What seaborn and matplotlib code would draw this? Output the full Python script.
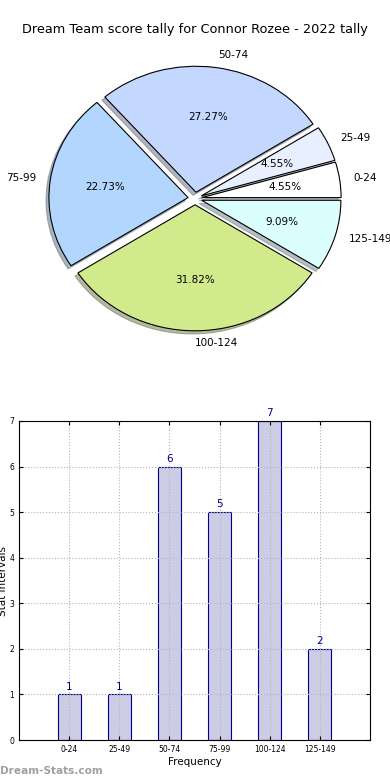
import matplotlib
matplotlib.use("Agg")
import matplotlib.pyplot as plt
import seaborn as sns
import pandas as pd

sns.set_style("white")
plt.rcParams['font.family'] = ['DejaVu Sans']
plt.rcParams['text.color'] = 'black'
plt.rcParams['axes.labelcolor'] = 'black'
plt.rcParams['xtick.color'] = 'black'
plt.rcParams['ytick.color'] = 'black'

# score intervals and how many games fell in each
intervals = ['0-24', '25-49', '50-74', '75-99', '100-124', '125-149']
counts = [1, 1, 6, 5, 7, 2]
slice_colors = ['#FFFFFF', '#E8F0FF', '#C4D8FF', '#B3D6FF', '#D0EA8C', '#DBFFFF']
title = 'Dream Team score tally for Connor Rozee - 2022 tally'

fig = plt.figure(figsize=(3.9, 7.8), dpi=100)

# pie on top (old style, not forced round)
ax1 = fig.add_axes([21 / 390, 1 - 356 / 780, 348 / 390, 315 / 780])
wedges, texts, autotexts = ax1.pie(
    counts, labels=intervals, colors=slice_colors, explode=[0.05] * 6,
    autopct='%.2f%%', shadow={'ox': -0.015, 'oy': -0.018, 'shade': 0.5},
    startangle=0,
    wedgeprops={'edgecolor': 'black', 'linewidth': 0.8},
    textprops={'fontsize': 7.5, 'color': 'black'})
ax1.set_aspect('auto')
ax1.set_xlim(-1.25, 1.25)
ax1.set_ylim(-1.25, 1.25)
fig.text(0.5, 1 - 30 / 780, title, ha='center', va='center', fontsize=9.3)

# bar chart below
df = pd.DataFrame({'interval': intervals, 'count': counts})
ax2 = fig.add_axes([19 / 390, 1 - 740 / 780, 351 / 390, 319 / 780])
sns.barplot(data=df, x='interval', y='count', ax=ax2, color='#CCCCE5',
            saturation=1, width=0.46, edgecolor='#00008B', linewidth=0.8)
ax2.set_xlim(-1, 6)
ax2.set_ylim(0, 7)
ax2.set_yticks(range(0, 8))
ax2.grid(True, linestyle=':', color='#B5B5B5', linewidth=0.8)
ax2.set_axisbelow(False)
for s in ax2.spines.values():
    s.set_visible(True)
    s.set_color('black')
    s.set_linewidth(0.8)
    s.set_zorder(5)
ax2.tick_params(direction='in', length=3, labelsize=5.5, right=True, top=True,
                bottom=True, left=True)
ax2.set_xlabel('Frequency', fontsize=7.5, labelpad=2)
ax2.set_ylabel('Stat Intervals', fontsize=7.5, labelpad=1)
for i, c in enumerate(counts):
    ax2.text(i, c + 0.06, str(c), ha='center', va='bottom', color='#00008B', fontsize=7.5)

fig.text(0.0, 1 - 771 / 780, 'Dream-Stats.com', ha='left', va='center',
         fontsize=7.6, color='#A0A0A0', fontweight='bold')

fig.savefig('out.png', dpi=100)
